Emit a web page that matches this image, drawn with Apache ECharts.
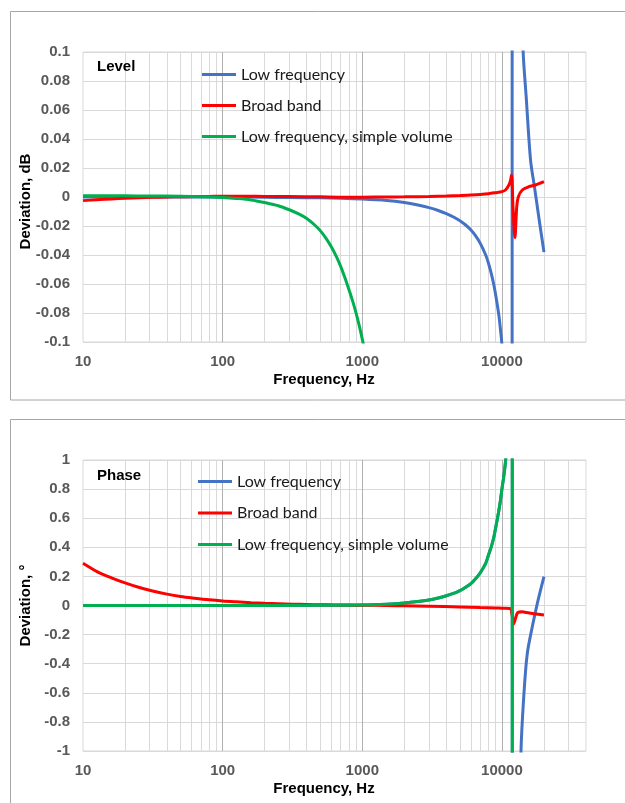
<!DOCTYPE html>
<html>
<head>
<meta charset="utf-8">
<script src="https://cdn.jsdelivr.net/npm/echarts@6/dist/echarts.min.js"></script>
<style>
html,body{margin:0;padding:0;background:#fff;}
#c{width:625px;height:803px;}
</style>
</head>
<body>
<div id="c"></div>
<script>
// ---------- data ----------
const seriesNames = ['Low frequency', 'Broad band', 'Low frequency, simple volume'];
const decadeTicks = [10, 100, 1000, 10000];
const minorTicks = [20, 30, 40, 50, 60, 70, 80, 90, 200, 300, 400, 500, 600, 700, 800, 900,
  2000, 3000, 4000, 5000, 6000, 7000, 8000, 9000, 20000, 30000];

// Level chart
const levelLowFreqHz = [10, 20, 50, 100, 200, 300, 500, 700, 1000, 1500, 2000, 2500, 3000, 3500, 4000, 4500, 5000, 5500, 6000, 6500, 7000, 7650, 8000, 8400, 8770, 9000, 9250, 9520, 9750, 10000, 10500, 11000, 11500, 11800, 11870, 12200, 12600, 13000, 13600, 14190, 14920, 16030, 17100, 18500, 20000];
const levelLowFreq = [0, 0, 0, 0, -0.0002, -0.0004, -0.0006, -0.0009, -0.0014, -0.0024, -0.0038, -0.0055, -0.0073, -0.0093, -0.0115, -0.0138, -0.0163, -0.0193, -0.0228, -0.027, -0.032, -0.040, -0.0455, -0.053, -0.061, -0.067, -0.074, -0.082, -0.091, -0.102, -0.16, -0.27, -0.7, -5, 5, 0.9, 0.45, 0.3, 0.17, 0.1, 0.069, 0.0255, 0.007, -0.016, -0.038];

const levelBroadHz = [10, 12.5, 16, 20, 25, 31.5, 40, 50, 63, 80, 100, 150, 200, 300, 500, 700, 1000, 1500, 2000, 3000, 4000, 5000, 6000, 7000, 8000, 9000, 10000, 10600, 11220, 11540, 11730, 12000, 12390, 12770, 13120, 13990, 15570, 17400, 20000];
const levelBroad = [-0.0025, -0.0019, -0.0013, -0.0009, -0.0005, -0.0002, 0, 0.0002, 0.0003, 0.0004, 0.0005, 0.0005, 0.0004, 0.0003, 0.0001, -0.0001, -0.0001, 0, 0.0001, 0.0004, 0.0007, 0.001, 0.0014, 0.0018, 0.0023, 0.003, 0.0037, 0.0048, 0.0083, 0.0117, 0.0152, -0.0067, -0.028, -0.0067, 0.0002, 0.0048, 0.0071, 0.0083, 0.0106];

const levelSimpleHz = [10, 20, 30, 50, 70, 100, 125, 160, 200, 250, 300, 350, 400, 450, 500, 550, 600, 650, 700, 750, 800, 850, 900, 950, 1000, 1100, 1250, 1600, 2000];
const levelSimple = [0.0008, 0.0008, 0.0007, 0.0005, 0.0002, -0.0004, -0.001, -0.002, -0.0038, -0.006, -0.0088, -0.0117, -0.0148, -0.0188, -0.0232, -0.0285, -0.0343, -0.0408, -0.0478, -0.0555, -0.0635, -0.0713, -0.0795, -0.0885, -0.098, -0.118, -0.152, -0.25, -0.39];

// Phase chart
const phaseLowFreqHz = [10, 100, 500, 1000, 1500, 2000, 2500, 3000, 3500, 4000, 4500, 5000, 5500, 6000, 6500, 7000, 7650, 8000, 8400, 8770, 9000, 9250, 9520, 9750, 10000, 10380, 10670, 11000, 11400, 11700, 11850, 11890, 12500, 13000, 13700, 14390, 15190, 16500, 17930, 20000];
const phaseLowFreq = [0, 0, 0.001, 0.003, 0.009, 0.017, 0.027, 0.038, 0.052, 0.067, 0.083, 0.102, 0.125, 0.15, 0.185, 0.225, 0.29, 0.345, 0.405, 0.473, 0.53, 0.59, 0.656, 0.72, 0.8, 0.908, 1.02, 1.3, 2.2, 5, 20, -20, -8, -2.5, -1.0, -0.6, -0.33, -0.146, 0.015, 0.198];

const phaseBroadHz = [10, 12.5, 16, 20, 25, 31.5, 40, 50, 63, 80, 100, 125, 160, 200, 250, 315, 400, 500, 630, 800, 1000, 1500, 2000, 3000, 5000, 7000, 9000, 10000, 11450, 11800, 12140, 12500, 12970, 13990, 15000, 17000, 20000];
const phaseBroad = [0.29, 0.235, 0.19, 0.155, 0.125, 0.1, 0.078, 0.062, 0.05, 0.039, 0.031, 0.025, 0.019, 0.015, 0.012, 0.009, 0.007, 0.005, 0.004, 0.003, 0.002, 0, -0.002, -0.005, -0.01, -0.014, -0.017, -0.019, -0.02, -0.06, -0.127, -0.09, -0.049, -0.043, -0.048, -0.056, -0.065];

const phaseSimpleHz = [10, 100, 500, 1000, 1500, 2000, 2500, 3000, 3500, 4000, 4500, 5000, 5500, 6000, 6500, 7000, 7650, 8000, 8400, 8770, 9000, 9250, 9520, 9750, 10000, 10380, 10670, 11000, 11400, 11700, 11830, 11870, 12500, 15000, 20000];
const phaseSimple = [0, 0, 0.001, 0.003, 0.009, 0.017, 0.027, 0.038, 0.052, 0.067, 0.083, 0.102, 0.125, 0.15, 0.185, 0.225, 0.29, 0.345, 0.405, 0.473, 0.53, 0.59, 0.656, 0.72, 0.8, 0.908, 1.02, 1.3, 2.2, 5, 20, -20, -5, -2.5, -2];

// ---------- helpers ----------
const zip = (xs, ys) => xs.map((x, i) => [x, ys[i]]);
const colors = ['#4472C4', '#FF0000', '#00B050'];
const LABEL_FONT = 'Liberation Sans, Arial, sans-serif';

function xAxisFor(gridIndex) {
  return {
    type: 'log', logBase: 10, gridIndex, min: 10, max: 40000,
    axisLine: { show: false }, axisTick: { show: false },
    axisLabel: {
      margin: 12, color: '#595959', fontFamily: LABEL_FONT, fontWeight: 'bold', fontSize: 15,
      showMaxLabel: false, formatter: v => String(Math.round(v))
    },
    splitLine: { show: true, showMinLine: false, showMaxLine: false, lineStyle: { color: '#B0B0B0', width: 1 } },
    name: 'Frequency, Hz', nameLocation: 'middle', nameGap: 30, nameMoveOverlap: false,
    nameTextStyle: { color: '#000', fontFamily: LABEL_FONT, fontWeight: 'bold', fontSize: 15, padding: [0, 21, 0, 0] }
  };
}
function yAxisFor(gridIndex, min, max, interval, digits, name, pad) {
  return {
    type: 'value', gridIndex, min, max, interval,
    axisLine: { show: false }, axisTick: { show: false },
    axisLabel: {
      margin: 13, color: '#595959', fontFamily: LABEL_FONT, fontWeight: 'bold', fontSize: 15,
      formatter: v => String(+v.toFixed(digits))
    },
    splitLine: { show: true, lineStyle: { color: '#D9D9D9', width: 1 } },
    name, nameLocation: 'middle', nameGap: 50, nameRotate: 90, nameMoveOverlap: false,
    nameTextStyle: { color: '#000', fontFamily: LABEL_FONT, fontWeight: 'bold', fontSize: 15, padding: pad }
  };
}
function minorGrid() {
  return {
    silent: true, symbol: ['none', 'none'], z: 1, animation: false,
    label: { show: false }, emphasis: { disabled: true },
    lineStyle: { color: '#D9D9D9', width: 1, type: 'solid' },
    data: minorTicks.map(v => ({ xAxis: v }))
  };
}
function lineSeries(name, idx, gridIdx, data, withGrid) {
  const s = {
    name, type: 'line', xAxisIndex: gridIdx, yAxisIndex: gridIdx,
    data, showSymbol: false, symbol: 'none', clip: true, z: 2,
    smooth: 0.3,
    color: colors[idx],
    lineStyle: { color: colors[idx], width: 3 },
    emphasis: { disabled: true }
  };
  if (withGrid) s.markLine = minorGrid();
  return s;
}
function legendFor(left, top, gap) {
  return {
    orient: 'vertical', left, top, padding: 0,
    icon: 'rect', itemWidth: 34, itemHeight: 3, itemGap: gap, selectedMode: false,
    textStyle: { fontFamily: 'Lato, sans-serif', fontSize: 16, color: '#1a1a1a', lineHeight: 15, padding: [0, 0, 0, 0] },
    data: seriesNames
  };
}

const chart = echarts.init(document.getElementById('c'), null, { renderer: 'canvas' });
chart.setOption({
  animation: false,
  backgroundColor: '#fff',
  title: [
    { text: 'Level', left: 97, top: 59, padding: 0, textStyle: { fontFamily: LABEL_FONT, fontWeight: 'bold', fontSize: 15, color: '#000' } },
    { text: 'Phase', left: 97, top: 468, padding: 0, textStyle: { fontFamily: LABEL_FONT, fontWeight: 'bold', fontSize: 15, color: '#000' } }
  ],
  legend: [legendFor(202, 66.5, 15), legendFor(198, 473.5, 15.5)],
  grid: [
    { left: 83, top: 52, width: 503, height: 290, show: true, borderColor: '#D9D9D9', borderWidth: 1, backgroundColor: 'transparent' },
    { left: 83, top: 460, width: 503, height: 291, show: true, borderColor: '#D9D9D9', borderWidth: 1, backgroundColor: 'transparent' }
  ],
  xAxis: [xAxisFor(0), xAxisFor(1)],
  yAxis: [
    yAxisFor(0, -0.1, 0.1, 0.02, 2, 'Deviation, dB', [0, 9, 0, 0]),
    yAxisFor(1, -1, 1, 0.2, 1, 'Deviation, °', [0, 0, 0, 0])
  ],
  graphic: [
    { type: 'rect', silent: true, z: -1, shape: { x: 10.5, y: 11.5, width: 620, height: 388.5 }, style: { fill: 'none', stroke: '#A6A6A6', lineWidth: 1 } },
    { type: 'rect', silent: true, z: -1, shape: { x: 10.5, y: 419.5, width: 620, height: 400 }, style: { fill: 'none', stroke: '#A6A6A6', lineWidth: 1 } }
  ],
  series: [
    lineSeries(seriesNames[0], 0, 0, zip(levelLowFreqHz, levelLowFreq), true),
    lineSeries(seriesNames[1], 1, 0, zip(levelBroadHz, levelBroad), false),
    lineSeries(seriesNames[2], 2, 0, zip(levelSimpleHz, levelSimple), false),
    lineSeries(seriesNames[0], 0, 1, zip(phaseLowFreqHz, phaseLowFreq), true),
    lineSeries(seriesNames[1], 1, 1, zip(phaseBroadHz, phaseBroad), false),
    lineSeries(seriesNames[2], 2, 1, zip(phaseSimpleHz, phaseSimple), false)
  ]
});
</script>
</body>
</html>
